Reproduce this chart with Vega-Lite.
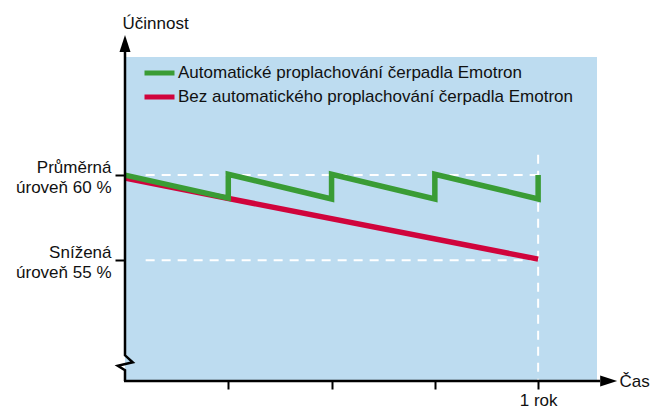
{
  "$schema": "https://vega.github.io/schema/vega-lite/v6.json",
  "width": 472,
  "height": 324,
  "autosize": {"type": "none"},
  "padding": {"left": 125, "top": 57, "right": 55, "bottom": 27},
  "background": "white",
  "config": {
    "view": {"fill": "#bddcf0", "stroke": null},
    "font": "Liberation Sans",
    "axis": {"labelFont": "Liberation Sans", "titleFont": "Liberation Sans", "labelColor": "#111111", "titleColor": "#111111", "titleFontWeight": "normal"},
    "legend": {"labelFont": "Liberation Sans"}
  },
  "datasets": {
    "lines": [
      {"serie": "Automatické proplachování čerpadla Emotron", "t": 0, "u": 60.0, "i": 0},
      {"serie": "Automatické proplachování čerpadla Emotron", "t": 1, "u": 58.65, "i": 1},
      {"serie": "Automatické proplachování čerpadla Emotron", "t": 1, "u": 60.05, "i": 2},
      {"serie": "Automatické proplachování čerpadla Emotron", "t": 2, "u": 58.6, "i": 3},
      {"serie": "Automatické proplachování čerpadla Emotron", "t": 2, "u": 60.05, "i": 4},
      {"serie": "Automatické proplachování čerpadla Emotron", "t": 3, "u": 58.6, "i": 5},
      {"serie": "Automatické proplachování čerpadla Emotron", "t": 3, "u": 60.05, "i": 6},
      {"serie": "Automatické proplachování čerpadla Emotron", "t": 4, "u": 58.6, "i": 7},
      {"serie": "Automatické proplachování čerpadla Emotron", "t": 4, "u": 60.0, "i": 8}
    ],
    "red": [
      {"serie": "Bez automatického proplachování čerpadla Emotron", "t": 0, "u": 59.82, "i": 0},
      {"serie": "Bez automatického proplachování čerpadla Emotron", "t": 4, "u": 55.06, "i": 1}
    ],
    "guides": [
      {"x1": 0.2, "x2": 4.0, "y1": 60.0, "y2": 60.0},
      {"x1": 0.2, "x2": 4.0, "y1": 55.0, "y2": 55.0},
      {"x1": 4.0, "x2": 4.0, "y1": 61.2, "y2": 47.95}
    ],
    "yaxis": [
      {"t": 0, "u": 47.9, "i": 0},
      {"t": 0, "u": 48.53, "i": 1},
      {"t": -0.07, "u": 48.8, "i": 2},
      {"t": 0.075, "u": 49.0, "i": 3},
      {"t": 0, "u": 49.41, "i": 4},
      {"t": 0, "u": 67.3, "i": 5}
    ],
    "xaxis": [
      {"t": -0.01, "u": 47.9, "i": 0},
      {"t": 4.6, "u": 47.9, "i": 1}
    ],
    "arrowUp": [{"t": 0, "u": 67.74}],
    "arrowRight": [{"t": 4.683, "u": 47.9}]
  },
  "layer": [
    {
      "data": {"name": "guides"},
      "mark": {"type": "rule", "color": "white", "strokeWidth": 2, "strokeDash": [9, 7]},
      "encoding": {
        "x": {"field": "x1", "type": "quantitative", "scale": {"domain": [0, 4.57], "nice": false, "zero": false},
          "axis": {"values": [1, 2, 3, 4], "labelExpr": "datum.value == 4 ? '1 rok' : ''", "domain": false, "grid": false, "tickColor": "black", "tickSize": 8, "tickWidth": 2, "labelFontSize": 17, "labelPadding": 3, "labelBaseline": "top", "title": "Čas", "titleFontSize": 17, "titleX": 494, "titleY": 0, "titleAlign": "left", "titleBaseline": "middle", "titleAngle": 0}},
        "x2": {"field": "x2"},
        "y": {"field": "y1", "type": "quantitative", "scale": {"domain": [47.9, 66.94], "nice": false, "zero": false},
          "axis": {"values": [55, 60], "labelExpr": "datum.value == 60 ? ['Průměrná', 'úroveň 60 %'] : ['Snížená', 'úroveň 55 %']", "domain": false, "grid": false, "tickColor": "black", "tickSize": 10, "tickWidth": 2, "labelFontSize": 17, "labelLineHeight": 20.5, "labelAlign": "right", "labelBaseline": "middle", "labelOffset": -8, "labelPadding": 4, "title": "Účinnost", "titleFontSize": 17, "titleAngle": 0, "titleAlign": "left", "titleBaseline": "middle", "titleX": -3, "titleY": -34}},
        "y2": {"field": "y2"}
      }
    },
    {
      "data": {"name": "red"},
      "mark": {"type": "line", "strokeWidth": 5.5, "strokeJoin": "miter", "strokeCap": "butt"},
      "encoding": {
        "x": {"field": "t", "type": "quantitative"},
        "y": {"field": "u", "type": "quantitative"},
        "order": {"field": "i"},
        "color": {"field": "serie", "type": "nominal",
          "scale": {"domain": ["Automatické proplachování čerpadla Emotron", "Bez automatického proplachování čerpadla Emotron"], "range": ["#3a9c35", "#d0043c"]},
          "legend": {"title": null, "orient": "none", "legendX": 24.5, "legendY": 6, "symbolType": "M-2,0H2", "symbolStrokeWidth": 5, "symbolSize": 225, "labelFontSize": 17, "labelColor": "#111111", "labelOffset": 8.5, "labelLimit": 0, "rowPadding": 4, "padding": 0}}
      }
    },
    {
      "data": {"name": "lines"},
      "mark": {"type": "line", "strokeWidth": 5.5, "strokeJoin": "miter", "strokeCap": "butt"},
      "encoding": {
        "x": {"field": "t", "type": "quantitative"},
        "y": {"field": "u", "type": "quantitative"},
        "order": {"field": "i"},
        "color": {"field": "serie", "type": "nominal"}
      }
    },
    {
      "data": {"name": "yaxis"},
      "mark": {"type": "line", "color": "black", "strokeWidth": 2.5, "strokeJoin": "miter"},
      "encoding": {
        "x": {"field": "t", "type": "quantitative"},
        "y": {"field": "u", "type": "quantitative"},
        "order": {"field": "i"}
      }
    },
    {
      "data": {"name": "xaxis"},
      "mark": {"type": "line", "color": "black", "strokeWidth": 2.5},
      "encoding": {
        "x": {"field": "t", "type": "quantitative"},
        "y": {"field": "u", "type": "quantitative"},
        "order": {"field": "i"}
      }
    },
    {
      "data": {"name": "arrowUp"},
      "mark": {"type": "point", "shape": "M-0.65,1L0,-1L0.65,1Z", "size": 289, "filled": true, "color": "black", "opacity": 1},
      "encoding": {
        "x": {"field": "t", "type": "quantitative"},
        "y": {"field": "u", "type": "quantitative"}
      }
    },
    {
      "data": {"name": "arrowRight"},
      "mark": {"type": "point", "shape": "M-1,-0.65L1,0L-1,0.65Z", "size": 289, "filled": true, "color": "black", "opacity": 1},
      "encoding": {
        "x": {"field": "t", "type": "quantitative"},
        "y": {"field": "u", "type": "quantitative"}
      }
    }
  ]
}
